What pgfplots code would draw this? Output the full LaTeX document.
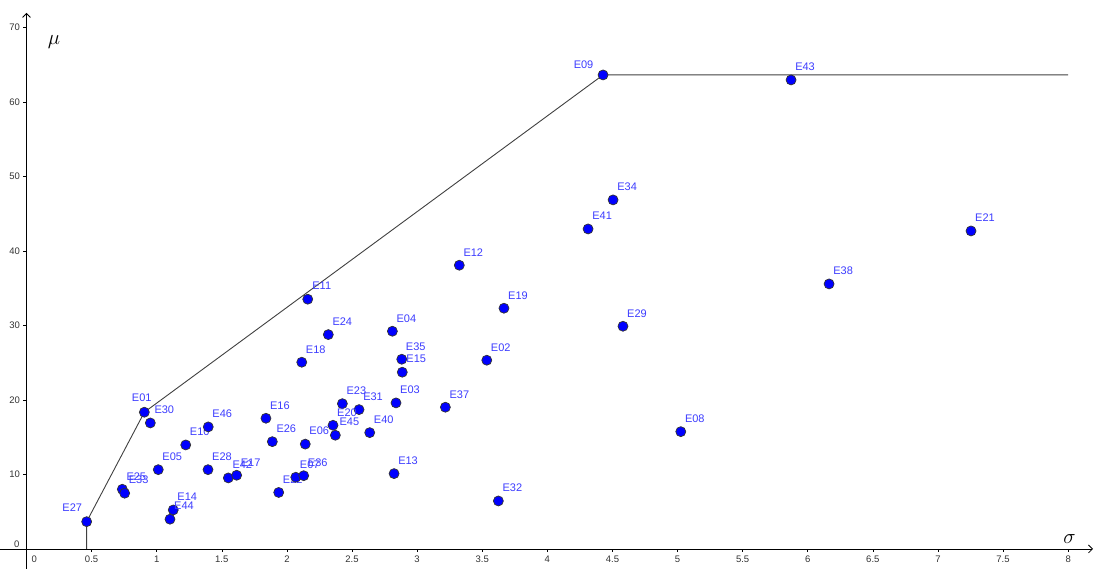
\documentclass[border=0pt]{standalone}
\usepackage{fontspec}
\setmainfont{Liberation Sans}
\usepackage{pgfplots}
\usepackage{pgfplotstable}
\pgfplotsset{compat=1.18}
\usetikzlibrary{arrows.meta}

\definecolor{ptblue}{RGB}{0,0,255}
\definecolor{lblblue}{RGB}{60,60,255}
\definecolor{frontier}{RGB}{64,64,64}

% sigma, mu, label, label offset (pt)
\pgfplotstableread{
x     y      lbl  dx     dy
0.462 3.66   E27  -14.4  13.7
0.905 18.35  E01  -2.6   15
0.951 16.91  E30  14     13
0.736 8.01   E25  14     13
0.754 7.48   E33  14     13
1.223 13.96  E10  14     13
1.396 16.38  E46  14     13
1.012 10.64  E05  14     13
1.394 10.64  E28  14     13
1.127 5.23   E14  14     13
1.102 3.99   E44  14     13
1.550 9.53   E42  14     13
1.614 9.89   E17  14     13
1.839 17.54  E16  14     13
1.888 14.40  E26  14     13
1.937 7.58   E22  14     13
2.068 9.62   E07  14     13
2.129 9.83   E36  14     13
2.141 14.07  E06  14     13
2.114 25.06  E18  14     13
2.160 33.52  E11  14     13
2.318 28.77  E24  14     13
2.810 29.22  E04  14     13
2.882 25.46  E35  14     13
2.886 23.72  E15  14     13
3.535 25.33  E02  14     13
2.426 19.50  E23  14     13
2.554 18.70  E31  14     13
2.838 19.60  E03  14     13
3.217 19.02  E37  14     13
2.354 16.60  E20  14     13
2.372 15.26  E45  14     13
2.636 15.61  E40  14     13
2.823 10.11  E13  14     13
3.624 6.44   E32  14     13
3.324 38.08  E12  14     13
3.667 32.31  E19  14     13
4.581 29.89  E29  14     13
5.025 15.74  E08  14     13
4.428 63.62  E09  -19.5  10.5
5.872 62.95  E43  14     13
4.505 46.85  E34  14     13
4.313 42.95  E41  14     13
6.164 35.57  E38  14     13
7.254 42.68  E21  14     13
}\assets

\begin{document}
\begin{tikzpicture}
\begin{axis}[
  scale only axis,
  width=1093pt, height=556pt,
  xmin=-0.2035, xmax=8.191,
  ymin=-2.68, ymax=71.95,
  axis lines=middle,
  axis line style={black, line width=0.8pt, -{Straight Barb[length=4pt,width=8pt]}},
  xtick={0.5,1,...,8},
  ytick={10,20,...,70},
  tick align=outside,
  major tick length=3pt,
  tick style={black, line width=0.6pt},
  ticklabel style={font=\fontsize{9.5}{10}\selectfont, text=black!80},
  /pgf/number format/assume math mode=true,
  clip=false,
]
\coordinate (bl) at (axis cs:-0.2035,-3.9);
\coordinate (tr) at (axis cs:8.237,73.68);

% efficient frontier
\addplot[frontier, line width=0.9pt, no markers] coordinates {
  (0.462,0) (0.462,3.66) (0.905,18.35) (4.428,63.62) (8,63.62)
};

% assets
\addplot[
  only marks,
  mark=*,
  mark size=5pt,
  mark options={fill=ptblue, draw=black!80, line width=0.7pt},
  point meta=explicit symbolic,
  visualization depends on={\thisrow{dx} \as \dx},
  visualization depends on={\thisrow{dy} \as \dy},
  nodes near coords,
  every node near coord/.style={anchor=center, xshift=\dx pt, yshift=\dy pt,
    text=lblblue, font=\fontsize{11}{11}\selectfont, inner sep=0pt},
] table[x=x, y=y, meta=lbl] {\assets};

\node[font=\fontsize{9.5}{10}\selectfont, text=black!80] at (axis cs:0.06,-1.4) {0};
\node[font=\fontsize{9.5}{10}\selectfont, text=black!80] at (axis cs:-0.075,0.65) {0};
\node[font=\fontsize{22}{22}\selectfont] at (axis cs:0.211,68.0) {$\mu$};
\node[font=\fontsize{22}{22}\selectfont] at (axis cs:8.01,1.3) {$\sigma$};
\end{axis}
\pgfresetboundingbox
\path (bl) rectangle (tr);
\end{tikzpicture}
\end{document}
